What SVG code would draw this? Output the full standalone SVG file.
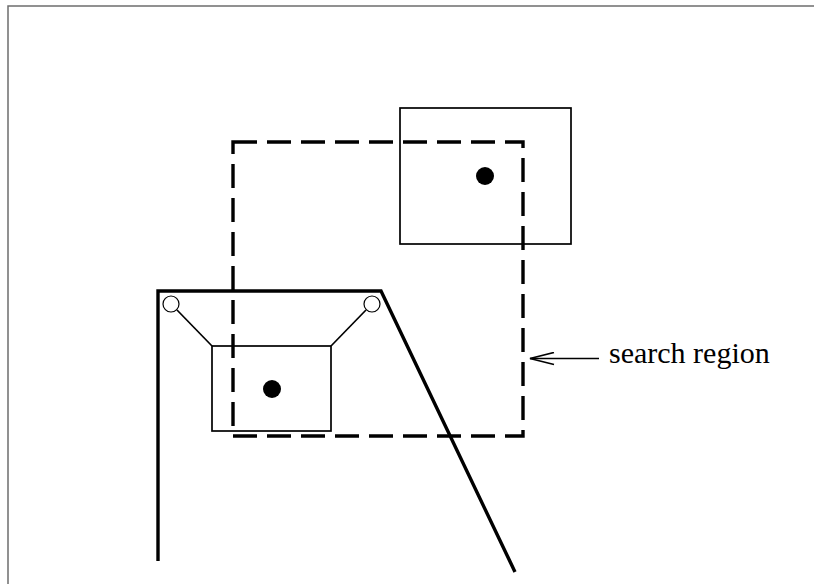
<svg xmlns="http://www.w3.org/2000/svg" width="814" height="584" viewBox="0 0 814 584">
  <style>
    .frame { fill: none; stroke: #6e6e6e; stroke-width: 1.5; }
    .heavy { fill: none; stroke: #000; stroke-width: 3.4; stroke-linejoin: miter; }
    .thin { fill: none; stroke: #000; stroke-width: 1.7; }
    .search { fill: none; stroke: #000; stroke-width: 3.4; stroke-dasharray: 24 10; }
    .dot { fill: #000; }
    .pivot { fill: #fff; stroke: #000; stroke-width: 1.2; }
    .label { font-family: "Liberation Serif", "Times New Roman", serif; font-size: 30px; fill: #000; }
  </style>
  <defs>
    <!-- open V arrowhead, tip at the line end -->
    <marker id="openHead" viewBox="0 0 26 14" refX="25" refY="7" markerWidth="26" markerHeight="14" markerUnits="userSpaceOnUse" orient="auto">
      <path d="M1,1 L25,7 L1,13" fill="none" stroke="#000" stroke-width="1.7"/>
    </marker>
  </defs>

  <rect width="814" height="584" fill="#fff"/>
  <!-- page frame -->
  <path class="frame" d="M8,590 V6 H820"/>

  <!-- gripper arm -->
  <g id="gripper">
    <path class="heavy" d="M158,561 V291 H381 L515,572"/>
    <circle class="pivot" cx="171" cy="304" r="8"/>
    <circle class="pivot" cx="372" cy="304" r="8"/>
    <line class="thin" x1="177" y1="310" x2="212" y2="346"/>
    <line class="thin" x1="366" y1="310" x2="331" y2="346"/>
  </g>

  <!-- held box -->
  <g id="held-box">
    <rect class="thin" x="212" y="346" width="119" height="85"/>
    <circle class="dot" cx="272" cy="389" r="9"/>
  </g>

  <!-- target box -->
  <g id="target-box">
    <rect class="thin" x="400" y="108" width="171" height="136"/>
    <circle class="dot" cx="485" cy="176" r="9"/>
  </g>

  <!-- search region -->
  <g id="search-region">
    <rect class="search" x="233" y="142" width="290" height="294"/>
  </g>

  <g id="connectors">
    <line class="thin" x1="599" y1="358.5" x2="530" y2="358.5" marker-end="url(#openHead)"/>
  </g>

  <g id="label">
    <text class="label" x="609" y="363">search region</text>
  </g>
</svg>
